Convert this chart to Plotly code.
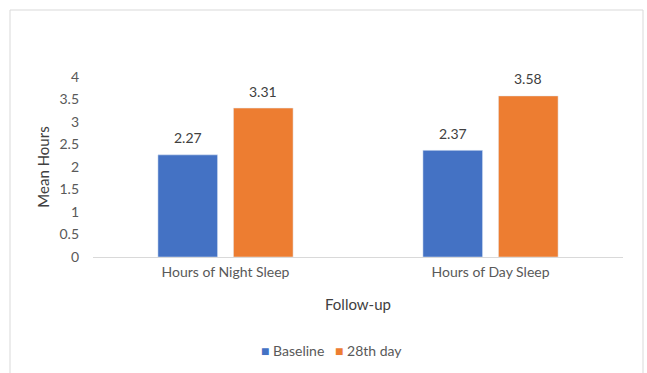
import plotly.graph_objects as go

categories = ["Hours of Night Sleep", "Hours of Day Sleep"]
baseline = [2.27, 2.37]
day28 = [3.31, 3.58]
y_ticks = [0, 0.5, 1, 1.5, 2, 2.5, 3, 3.5, 4]
series_names = ["Baseline", "28th day"]
series_colors = ["#4472C4", "#ED7D31"]

FONT = "Lato, 'Open Sans', sans-serif"
TXT = "#595959"

L, R, T, B = 93, 24, 77, 116
W, H = 647, 373
pw, ph = W - L - R, H - T - B
BARGAP, GROUPGAP = 0.43, 0.21

def px_x(p):
    return (p - L) / pw

def px_y(p):
    return (H - B - p) / ph

fig = go.Figure()
series = [baseline, day28]
for name, vals, color in zip(series_names, series, series_colors):
    fig.add_trace(go.Bar(
        name=name, x=categories, y=vals, marker_color=color,
        showlegend=False,
    ))

# value labels above each bar, shifted to their slot within the group
slot_px = pw / len(categories) * (1 - BARGAP) / len(series)
annotations = []
for i, (vals, name) in enumerate(zip(series, series_names)):
    shift = (i - (len(series) - 1) / 2) * slot_px
    for cat, v in zip(categories, vals):
        annotations.append(dict(
            x=cat, y=v, xref="x", yref="y", text=f"{v:.2f}",
            showarrow=False, xshift=shift, yshift=17,
            xanchor="center", yanchor="middle",
            font=dict(size=14, color="#404040", family=FONT),
        ))

# compact legend drawn as a single centred annotation
legend_text = "   ".join(
    f"<span style='color:{c}'>■</span> {n}" for n, c in zip(series_names, series_colors)
)
annotations.append(dict(
    text=legend_text, xref="paper", yref="paper",
    x=px_x(331), y=px_y(350), xanchor="center", yanchor="middle",
    showarrow=False, font=dict(size=14, color=TXT, family=FONT),
))

fig.update_layout(
    width=W, height=H,
    margin=dict(l=L, r=R, t=T, b=B),
    paper_bgcolor="white", plot_bgcolor="white",
    barmode="group", bargap=BARGAP, bargroupgap=GROUPGAP,
    font=dict(family=FONT, size=14, color=TXT),
    xaxis=dict(
        showline=True, linecolor="#D9D9D9", linewidth=1,
        ticks="", showgrid=False, automargin=False,
        tickfont=dict(size=14, color=TXT), ticklabelstandoff=2,
        title=dict(text="Follow-up", font=dict(size=15, color="#404040"), standoff=20),
    ),
    yaxis=dict(
        range=[0, 4], tickvals=y_ticks, ticktext=[f"{v:g}" for v in y_ticks],
        showgrid=False, zeroline=False, showline=False, ticks="",
        automargin=False,
        tickfont=dict(size=14, color=TXT), ticklabelstandoff=13,
        title=dict(text="Mean Hours", font=dict(size=15, color="#404040"), standoff=6),
    ),
    annotations=annotations,
    shapes=[dict(
        type="rect", xref="paper", yref="paper",
        x0=px_x(10), x1=px_x(643), y0=px_y(380), y1=px_y(10),
        line=dict(color="#D9D9D9", width=1), fillcolor="rgba(0,0,0,0)", layer="below",
    )],
)

fig.write_html("out.html")
